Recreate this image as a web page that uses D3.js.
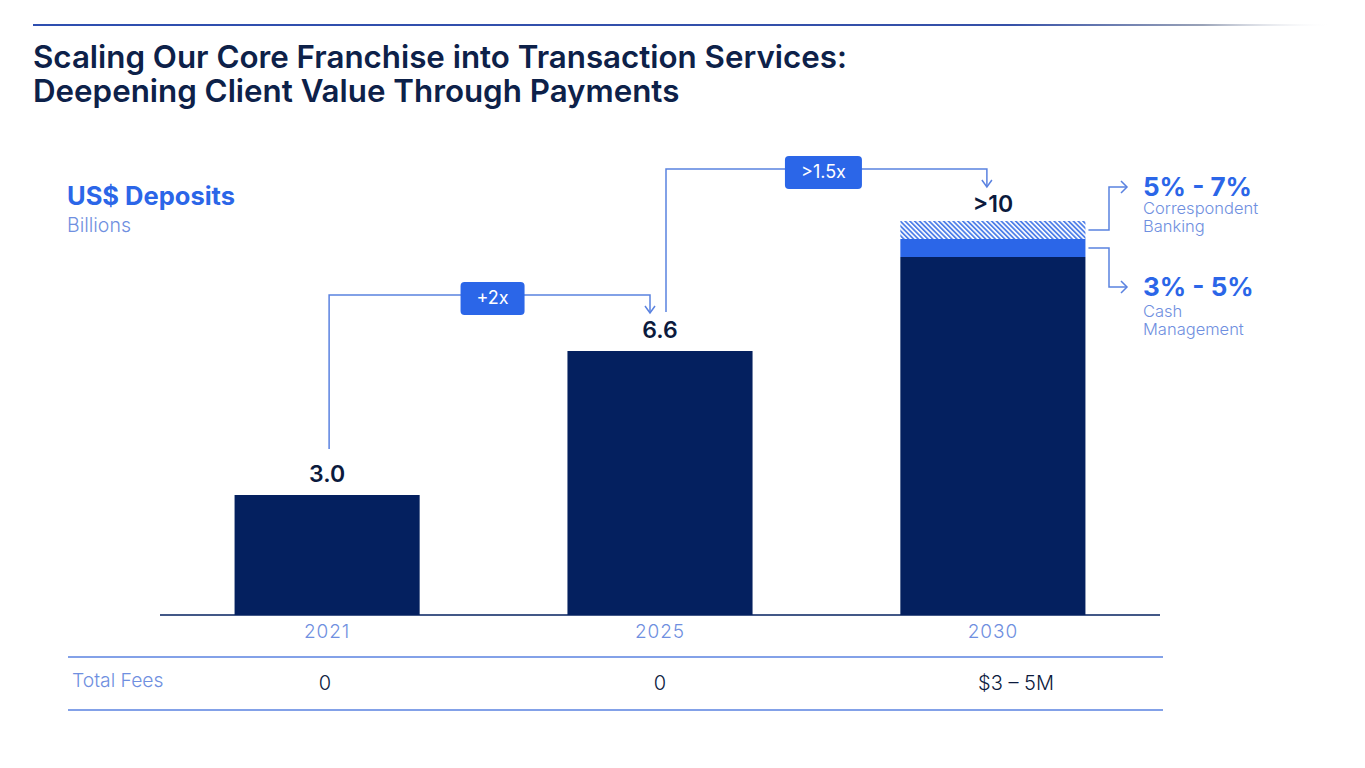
<!DOCTYPE html>
<html>
<head>
<meta charset="utf-8">
<script src="https://cdn.jsdelivr.net/npm/d3@7"></script>
<style>
  html, body { margin: 0; padding: 0; background: #fff; }
  svg { display: block; font-family: Inter, "Noto Sans", sans-serif; }
</style>
</head>
<body>
<svg id="chart" width="1365" height="768"></svg>
<script>
'use strict';

// chart values
var years = ['2021', '2025', '2030'];
var baseDeposits = [3.0, 6.6, 8.95];
var cashMgmt = [0, 0, 0.45];
var corrBanking = [0, 0, 0.45];
var valueLabels = ['3.0', '6.6', '>10'];
var totalFees = ['0', '0', '$3 \u2013 5M'];
var growthBadges = [
  { from: 0, to: 1, text: '+2x' },
  { from: 1, to: 2, text: '>1.5x' }
];
var segmentNotes = [
  { range: '5% - 7%', lines: ['Correspondent', 'Banking'] },
  { range: '3% - 5%', lines: ['Cash', 'Management'] }
];

var NAVY = '#04205f';
var TITLE = '#0d2149';
var BLUE = '#2b66e8';
var LIGHT = '#6f8fe0';
var LINE = '#5a82e0';

var svg = d3.select('#chart');
var defs = svg.append('defs');

// top rule fading to the right
var grad = defs.append('linearGradient').attr('id', 'rule').attr('x1', 0).attr('x2', 1);
grad.append('stop').attr('offset', '0%').attr('stop-color', '#2e4fb0');
grad.append('stop').attr('offset', '75%').attr('stop-color', '#3550a8');
grad.append('stop').attr('offset', '90%').attr('stop-color', '#9aa3b8');
grad.append('stop').attr('offset', '100%').attr('stop-color', '#ffffff').attr('stop-opacity', 0);
svg.append('rect').attr('x', 33).attr('y', 24).attr('width', 1300).attr('height', 2).attr('fill', 'url(#rule)');

// hatch for correspondent banking
var pat = defs.append('pattern').attr('id', 'hatch')
  .attr('patternUnits', 'userSpaceOnUse').attr('width', 3.4).attr('height', 3.4)
  .attr('patternTransform', 'rotate(-45)');
pat.append('rect').attr('width', 3.4).attr('height', 3.4).attr('fill', '#ffffff');
pat.append('rect').attr('width', 1.8).attr('height', 3.4).attr('fill', '#4f7fe8');

// title
var title = svg.append('text').attr('x', 33).attr('fill', TITLE)
  .attr('font-size', 31.3).attr('font-weight', 600);
title.append('tspan').attr('x', 33).attr('y', 68).text('Scaling Our Core Franchise into Transaction Services:');
title.append('tspan').attr('x', 33).attr('y', 102).text('Deepening Client Value Through Payments');

svg.append('text').attr('x', 67).attr('y', 205).attr('fill', BLUE)
  .attr('font-size', 25.5).attr('font-weight', 700).text('US$ Deposits');
svg.append('text').attr('x', 67).attr('y', 232).attr('fill', LIGHT)
  .attr('font-size', 19.5).attr('font-weight', 300).text('Billions');

// scales
var x = d3.scaleBand().domain(years).range([160, 1160]).paddingInner(0.444).paddingOuter(0.224);
var y = d3.scaleLinear().domain([0, 10]).range([615, 215]);

var stackData = years.map(function (yr, i) {
  return { year: yr, base: baseDeposits[i], cash: cashMgmt[i], corr: corrBanking[i] };
});
var series = d3.stack().keys(['base', 'cash', 'corr'])(stackData);
var fills = { base: NAVY, cash: BLUE, corr: 'url(#hatch)' };

svg.append('g').selectAll('g').data(series).join('g')
  .attr('fill', function (s) { return fills[s.key]; })
  .selectAll('rect').data(function (s) { return s; }).join('rect')
  .attr('x', function (d) { return x(d.data.year); })
  .attr('width', x.bandwidth())
  .attr('y', function (d) { return y(d[1]); })
  .attr('height', function (d) { return y(d[0]) - y(d[1]); });

// baseline axis
var axis = svg.append('g').attr('transform', 'translate(0,615)')
  .call(d3.axisBottom(x).tickSize(0).tickPadding(10));
axis.select('.domain').attr('d', 'M160,0H1160').attr('stroke', NAVY).attr('stroke-width', 1.5);
axis.selectAll('text').attr('fill', LIGHT).attr('font-size', 19).attr('font-weight', 300)
  .attr('letter-spacing', 0.9).attr('font-family', 'Inter, sans-serif');

// value labels
var tops = stackData.map(function (d) { return d.base + d.cash + d.corr; });
var labelGap = [13, 13, 9];
var labelY = years.map(function (d, i) { return y(tops[i]) - labelGap[i]; });
svg.append('g').selectAll('text').data(years).join('text')
  .attr('x', function (d) { return x(d) + x.bandwidth() / 2; })
  .attr('y', function (d, i) { return labelY[i]; })
  .attr('text-anchor', 'middle').attr('fill', '#0b1a3d')
  .attr('font-size', 23).attr('font-weight', 600)
  .text(function (d, i) { return valueLabels[i]; });

// growth brackets
function arrowDown(g, cx, cy) {
  g.append('path').attr('d', 'M' + (cx - 5) + ',' + (cy - 7) + 'L' + cx + ',' + cy + 'L' + (cx + 5) + ',' + (cy - 7))
    .attr('fill', 'none').attr('stroke', LINE).attr('stroke-width', 1.5);
}
var br = svg.append('g');
var startOff = [2, 6];
var endOff = [-10, -6];
var startGap = [33, 26];
var badgeShift = [3, -3];
growthBadges.forEach(function (b, k) {
  var x0 = x(years[b.from]) + x.bandwidth() / 2 + startOff[k];
  var x1 = x(years[b.to]) + x.bandwidth() / 2 + endOff[k];
  var yStart = labelY[b.from] - startGap[k];
  var yTop = labelY[b.to] - 43;
  var yEnd = labelY[b.to] - 25;
  br.append('path')
    .attr('d', 'M' + x0 + ',' + yStart + 'V' + yTop + 'H' + x1 + 'V' + yEnd)
    .attr('fill', 'none').attr('stroke', LINE).attr('stroke-width', 1.5);
  arrowDown(br, x1, yEnd);
  var mid = (x0 + x1) / 2 + badgeShift[k];
  var w = b.text.length > 3 ? 77 : 64;
  br.append('rect').attr('x', mid - w / 2).attr('y', yTop - 13).attr('width', w).attr('height', 33)
    .attr('rx', 4).attr('fill', BLUE);
  br.append('text').attr('x', mid).attr('y', yTop + 9).attr('text-anchor', 'middle')
    .attr('fill', '#fff').attr('font-size', 18).attr('font-weight', 400).text(b.text);
});

// segment notes on the 2030 bar
var last = stackData[2];
var barRight = x(years[2]) + x.bandwidth() + 3;
var corrMid = y(last.base + last.cash + last.corr / 2);
var cashMid = y(last.base + last.cash / 2);
var notes = svg.append('g');
var anchorsY = [corrMid, cashMid];
var targetY = [187, 287];
var subGap = [27, 30];
segmentNotes.forEach(function (n, i) {
  notes.append('path')
    .attr('d', 'M' + barRight + ',' + anchorsY[i] + 'H1109V' + targetY[i] + 'H1127')
    .attr('fill', 'none').attr('stroke', LINE).attr('stroke-width', 1.5);
  notes.append('path').attr('d', 'M1121,' + (targetY[i] - 6) + 'L1127,' + targetY[i] + 'L1121,' + (targetY[i] + 6))
    .attr('fill', 'none').attr('stroke', LINE).attr('stroke-width', 1.5);
  notes.append('text').attr('x', 1143).attr('y', targetY[i] + 9).attr('fill', BLUE)
    .attr('font-size', 26).attr('font-weight', 700).text(n.range);
  n.lines.forEach(function (l, j) {
    notes.append('text').attr('x', 1143).attr('y', targetY[i] + subGap[i] + j * 18).attr('fill', LIGHT)
      .attr('font-size', 16.5).attr('font-weight', 300).text(l);
  });
});

// fees table
var tbl = svg.append('g');
[657, 710].forEach(function (ly) {
  tbl.append('line').attr('x1', 68).attr('x2', 1163).attr('y1', ly).attr('y2', ly)
    .attr('stroke', LINE).attr('stroke-width', 1.5);
});
tbl.append('text').attr('x', 72).attr('y', 687).attr('fill', LIGHT)
  .attr('font-size', 19.3).attr('font-weight', 300).text('Total Fees');
var feeX = [325, 660, 1016];
tbl.selectAll('text.fee').data(totalFees).join('text').attr('class', 'fee')
  .attr('x', function (d, i) { return feeX[i]; }).attr('y', 690)
  .attr('text-anchor', 'middle').attr('fill', '#0b1a3d')
  .attr('font-size', 20).attr('font-weight', 300)
  .text(function (d) { return d; });
</script>
</body>
</html>
